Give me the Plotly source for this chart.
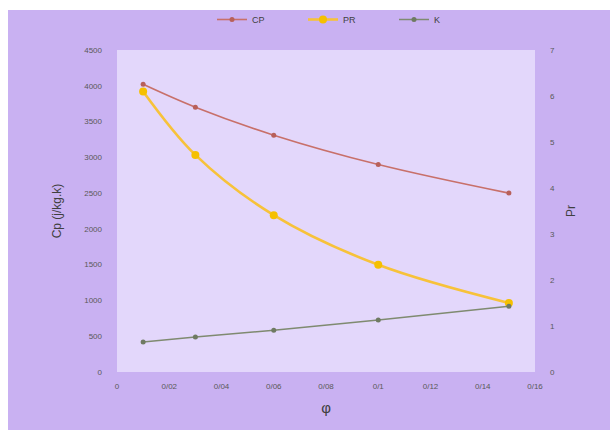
import plotly.graph_objects as go

# Volume fraction of nanoparticles
phi = [0.01, 0.03, 0.06, 0.10, 0.15]

# Specific heat capacity (left axis)
cp = [4020, 3700, 3310, 2900, 2500]
# Prandtl number (right axis)
pr = [6.10, 4.72, 3.41, 2.33, 1.50]
# Thermal conductivity (right axis)
k = [0.65, 0.76, 0.91, 1.13, 1.43]

x_tickvals = [0, 0.02, 0.04, 0.06, 0.08, 0.10, 0.12, 0.14, 0.16]
x_ticktext = ["0", "0/02", "0/04", "0/06", "0/08", "0/1", "0/12", "0/14", "0/16"]
y1_tickvals = [0, 500, 1000, 1500, 2000, 2500, 3000, 3500, 4000, 4500]
y2_tickvals = [0, 1, 2, 3, 4, 5, 6, 7]

W, H = 610, 430
L, R, T, B = 117, 75, 50, 58
PW, PH = W - L - R, H - T - B


def px_x(p):
    return (p - L) / PW


def px_y(p):
    return (H - B - p) / PH


FONT = "Liberation Sans"
TICK_COLOR = "#595959"
FRAME = "#c9b1f2"
PLOT_BG = "#e3d7fb"

fig = go.Figure()
fig.add_trace(go.Scatter(
    x=phi, y=cp, name="CP", mode="lines+markers", line_shape="spline",
    line=dict(color="#c8706a", width=1.6),
    marker=dict(color="#b8605a", size=5),
))
fig.add_trace(go.Scatter(
    x=phi, y=pr, name="PR", mode="lines+markers", line_shape="spline", yaxis="y2",
    line=dict(color="#f7c23a", width=2.6),
    marker=dict(color="#f5c000", size=8),
))
fig.add_trace(go.Scatter(
    x=phi, y=k, name="K", mode="lines+markers", line_shape="spline", yaxis="y2",
    line=dict(color="#7f8a70", width=1.5),
    marker=dict(color="#6f7a62", size=5),
))

# lavender chart frame, leaving a thin white border at top and left
fig.add_shape(type="rect", xref="paper", yref="paper",
              x0=px_x(8), x1=px_x(W + 20), y0=px_y(H + 20), y1=px_y(10),
              fillcolor=FRAME, line_width=0, layer="below")
# lighter inner plot area
fig.add_shape(type="rect", xref="paper", yref="paper",
              x0=0, x1=1, y0=0, y1=1,
              fillcolor=PLOT_BG, line_width=0, layer="below")

fig.update_layout(
    width=W, height=H,
    margin=dict(l=L, r=R, t=T, b=B, autoexpand=False),
    paper_bgcolor="white",
    plot_bgcolor=PLOT_BG,
    font=dict(family=FONT, size=8, color=TICK_COLOR),
    showlegend=True,
    legend=dict(
        orientation="h", xref="container", yref="container",
        x=212 / W, y=1 - 5 / H, xanchor="left", yanchor="top",
        bgcolor="rgba(0,0,0,0)", font=dict(size=9, color="#404040"),
        entrywidth=46, entrywidthmode="pixels", itemwidth=30,
    ),
    xaxis=dict(
        range=[0, 0.16], tickvals=x_tickvals, ticktext=x_ticktext,
        showgrid=False, zeroline=False, showline=False, ticks="",
        ticklabelstandoff=8,
        title=dict(text="φ", font=dict(size=15, color="#404040"), standoff=12),
    ),
    yaxis=dict(
        range=[0, 4500], tickvals=y1_tickvals,
        showgrid=False, zeroline=False, showline=False, ticks="",
        ticklabelstandoff=14,
        title=dict(text="Cp (j/kg.k)", font=dict(size=12, color="#404040"), standoff=20),
    ),
    yaxis2=dict(
        range=[0, 7], tickvals=y2_tickvals, overlaying="y", side="right",
        showgrid=False, zeroline=False, showline=False, ticks="",
        ticklabelstandoff=14,
        title=dict(text="Pr", font=dict(size=12, color="#404040"), standoff=12),
    ),
)

fig.write_html("out.html")
